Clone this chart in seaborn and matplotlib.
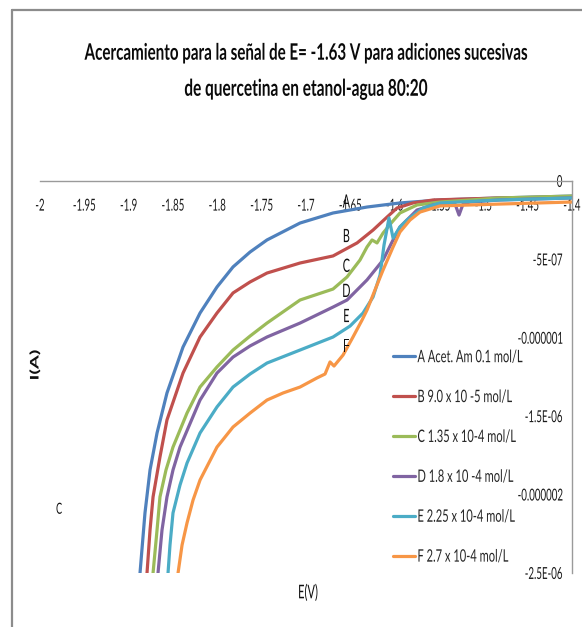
import numpy as np
import pandas as pd
import matplotlib
matplotlib.use("Agg")
import matplotlib.pyplot as plt
from matplotlib.lines import Line2D
from matplotlib.transforms import Affine2D
from matplotlib.patheffects import AbstractPathEffect
import seaborn as sns

# ---------------- data (E in V, I in microampere) ----------------
series_names = ["A Acet. Am 0.1 mol/L", "B 9.0 x 10 -5 mol/L", "C 1.35 x 10-4 mol/L",
                "D 1.8 x 10 -4 mol/L", "E 2.25 x 10-4 mol/L", "F 2.7 x 10-4 mol/L"]
colors = ["#4F81BD", "#C0504D", "#9BBB59", "#8064A2", "#4BACC6", "#F79646"]

E_A = [-1.8872, -1.8816, -1.8759, -1.8680, -1.8568, -1.8387, -1.8195, -1.8004, -1.7823,
       -1.7631, -1.7440, -1.7067, -1.6695, -1.6312, -1.5940, -1.5488, -1.4812, -1.4000]
I_A = [-2.500, -2.117, -1.843, -1.607, -1.352, -1.059, -0.842, -0.676, -0.548,
       -0.453, -0.376, -0.268, -0.204, -0.166, -0.140, -0.121, -0.108, -0.096]

E_B = [-1.8793, -1.8759, -1.8725, -1.8647, -1.8568, -1.8387, -1.8195, -1.8004, -1.7823,
       -1.7631, -1.7440, -1.7067, -1.6695, -1.6424, -1.6244, -1.6086, -1.5973, -1.5793,
       -1.5567, -1.4812, -1.4000]
I_B = [-2.500, -2.226, -2.015, -1.760, -1.524, -1.225, -0.995, -0.842, -0.714,
       -0.644, -0.587, -0.523, -0.478, -0.395, -0.313, -0.230, -0.172, -0.140,
       -0.121, -0.108, -0.102]

E_C = [-1.8725, -1.8680, -1.8647, -1.8579, -1.8500, -1.8342, -1.8195, -1.8004, -1.7823,
       -1.7631, -1.7440, -1.7067, -1.6695, -1.6537, -1.6391, -1.6312, -1.6255, -1.6199,
       -1.6131, -1.6030, -1.5940, -1.5748, -1.5488, -1.4812, -1.4000]
I_C = [-2.500, -2.226, -2.015, -1.843, -1.697, -1.480, -1.314, -1.186, -1.078,
       -0.989, -0.906, -0.759, -0.689, -0.612, -0.504, -0.421, -0.376, -0.395,
       -0.332, -0.262, -0.204, -0.153, -0.134, -0.108, -0.096]

E_D = [-1.8669, -1.8624, -1.8568, -1.8500, -1.8421, -1.8195, -1.8004, -1.7823, -1.7631,
       -1.7440, -1.7067, -1.6695, -1.6537, -1.6312, -1.6131, -1.6018, -1.5940, -1.5748,
       -1.5567, -1.5376, -1.5319, -1.5274, -1.5229, -1.5150, -1.4812, -1.4000]
I_D = [-2.500, -2.226, -2.015, -1.843, -1.697, -1.397, -1.225, -1.123, -1.052,
       -0.995, -0.906, -0.804, -0.759, -0.631, -0.504, -0.376, -0.293, -0.185,
       -0.153, -0.140, -0.147, -0.217, -0.147, -0.134, -0.121, -0.108]

E_E = [-1.8556, -1.8534, -1.8500, -1.8421, -1.8342, -1.8195, -1.8004, -1.7823, -1.7631,
       -1.7440, -1.7067, -1.6695, -1.6503, -1.6357, -1.6244, -1.6165, -1.6120, -1.6064,
       -1.6018, -1.5940, -1.5861, -1.5680, -1.5488, -1.4812, -1.4000]
I_E = [-2.500, -2.322, -2.117, -1.939, -1.799, -1.607, -1.441, -1.314, -1.231,
       -1.161, -1.078, -0.995, -0.925, -0.842, -0.740, -0.600, -0.408, -0.236,
       -0.364, -0.293, -0.249, -0.172, -0.140, -0.121, -0.108]

E_F = [-1.8443, -1.8398, -1.8342, -1.8274, -1.8195, -1.8004, -1.7823, -1.7631, -1.7440,
       -1.7259, -1.7067, -1.6876, -1.6785, -1.6729, -1.6684, -1.6582, -1.6470, -1.6368,
       -1.6312, -1.6222, -1.6131, -1.6018, -1.5940, -1.5827, -1.5714, -1.5488, -1.4812,
       -1.4000]
I_F = [-2.500, -2.322, -2.181, -2.035, -1.907, -1.697, -1.569, -1.480, -1.397,
       -1.352, -1.314, -1.256, -1.231, -1.154, -1.180, -1.110, -0.995, -0.887,
       -0.823, -0.695, -0.568, -0.421, -0.325, -0.249, -0.198, -0.159, -0.147,
       -0.134]

x_ticks = [-2, -1.95, -1.9, -1.85, -1.8, -1.75, -1.7, -1.65, -1.6, -1.55, -1.5, -1.45, -1.4]
x_tick_labels = ["-2", "-1.95", "-1.9", "-1.85", "-1.8", "-1.75", "-1.7", "-1.65", "-1.6",
                 "-1.55", "-1.5", "-1.45", "-1.4"]
y_ticks = [0, -5e-7, -1e-6, -1.5e-6, -2e-6, -2.5e-6]
y_tick_labels = ["0", "-5E-07", "-0.000001", "-1.5E-06", "-0.000002", "-2.5E-06"]

curve_letters = ["A", "B", "C", "D", "E", "F"]


# ---------------- helper: condensed look of the original (tall, narrow glyphs) ----------
class Stretch(AbstractPathEffect):
    """Scale glyph outlines (about the glyph centre) to mimic the squeezed original."""

    def __init__(self, sx=1.0, sy=1.0, cy=36.0):
        super().__init__()
        self.sx, self.sy, self.cy = sx, sy, cy

    def draw_path(self, renderer, gc, tpath, affine, rgbFace=None):
        ext = tpath.get_extents()
        cx = 0.5 * (ext.x0 + ext.x1)
        t = (Affine2D().translate(-cx, -self.cy).scale(self.sx, self.sy)
             .translate(cx, self.cy))
        renderer.draw_path(gc, tpath, t + affine, rgbFace)


SY = 1.7
tall = [Stretch(1.0, SY)]

# ---------------- build table ----------------
all_E = [E_A, E_B, E_C, E_D, E_E, E_F]
all_I = [I_A, I_B, I_C, I_D, I_E, I_F]
frames = []
for name, e, i in zip(series_names, all_E, all_I):
    frames.append(pd.DataFrame({"E": e, "I": np.array(i) * 1e-6, "serie": name}))
df = pd.concat(frames, ignore_index=True)

# ---------------- figure ----------------
sns.set_theme(style="white")
plt.rcParams["font.family"] = ["Lato", "DejaVu Sans"]

W, H = 582, 627
fig = plt.figure(figsize=(W / 100, H / 100), dpi=100)
ax = fig.add_axes([40 / W, 1 - 573 / H, 532 / W, 392 / H])

sns.lineplot(data=df, x="E", y="I", hue="serie", palette=colors, sort=False,
             estimator=None, linewidth=2.3, ax=ax, legend=True)

ax.set_xlim(-2, -1.4)
ax.set_ylim(-2.5e-6, 0)
ax.set_xlabel("")
ax.set_ylabel("")

for s in ["left", "bottom"]:
    ax.spines[s].set_visible(False)
for s in ["top", "right"]:
    ax.spines[s].set_visible(True)
    ax.spines[s].set_color("#9A9A9A")
    ax.spines[s].set_linewidth(1.0)

ax.set_xticks(x_ticks)
ax.set_xticklabels(x_tick_labels)
ax.set_yticks(y_ticks)
ax.set_yticklabels(y_tick_labels)
ax.tick_params(axis="x", top=True, bottom=False, labeltop=True, labelbottom=False,
               length=0, pad=-21, labelsize=7, labelcolor="#1a1a1a")
ax.tick_params(axis="y", left=False, right=True, labelleft=False, labelright=True,
               length=0, pad=-7, labelsize=7, labelcolor="#1a1a1a")
for lbl in ax.get_yticklabels():
    lbl.set_horizontalalignment("right")
for lbl in ax.get_xticklabels() + ax.get_yticklabels():
    lbl.set_path_effects(tall)
ax.grid(False)

# legend
handles, labels = ax.get_legend_handles_labels()
leg = ax.legend(handles, labels, loc="upper left", bbox_to_anchor=(393 / W, 1 - 351 / H),
                bbox_transform=fig.transFigure, frameon=False, fontsize=8,
                handlelength=2.0, handletextpad=0.2, labelspacing=2.6, borderpad=0,
                borderaxespad=0)
for t in leg.get_texts():
    t.set_path_effects([Stretch(1.0, 1.55)])

# curve letters (placed at E = -1.655 V near each curve)
letter_I = [-0.13e-6, -0.35e-6, -0.54e-6, -0.70e-6, -0.86e-6, -1.05e-6]
for lt, yy in zip(curve_letters, letter_I):
    ax.text(-1.6545, yy, lt, ha="center", va="center", fontsize=7.8, color="#111111",
            path_effects=tall)

# titles and axis captions
fig.text(306 / W, 1 - 53 / H,
         "Acercamiento para la señal de E= -1.63 V para adiciones sucesivas",
         ha="center", va="center", fontsize=10.9, fontweight="bold", color="#0a0a0a",
         path_effects=[Stretch(1.0, 1.5)])
fig.text(306 / W, 1 - 89 / H, "de quercetina en etanol-agua 80:20",
         ha="center", va="center", fontsize=11.1, fontweight="bold", color="#0a0a0a",
         path_effects=[Stretch(1.0, 1.5)])
fig.text(35 / W, 1 - 365 / H, "I(A)", rotation=90, ha="center", va="center",
         fontsize=8.5, fontweight="bold", color="#111111",
         path_effects=[Stretch(1.7, 1.0)])
fig.text(308 / W, 1 - 592 / H, "E(V)", ha="center", va="center", fontsize=8,
         color="#111111", path_effects=tall)
fig.text(59 / W, 1 - 509 / H, "C", ha="center", va="center", fontsize=6.5,
         color="#111111", path_effects=tall)

# outer chart frame (left and top)
fig.add_artist(Line2D([12 / W, 12 / W], [0, 1 - 10 / H], transform=fig.transFigure,
                      color="#8C8C8C", lw=1.6))
fig.add_artist(Line2D([12 / W, 1], [1 - 10 / H, 1 - 10 / H], transform=fig.transFigure,
                      color="#8C8C8C", lw=1.6))

fig.savefig("out.png", dpi=100, facecolor="white")
